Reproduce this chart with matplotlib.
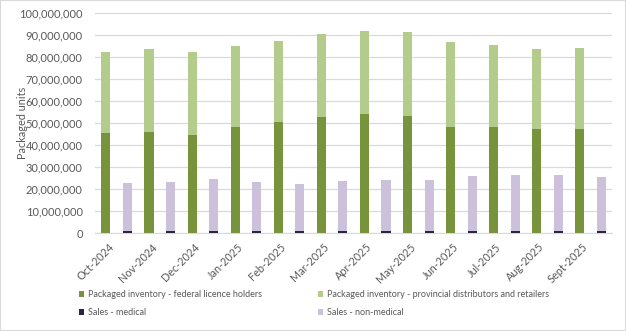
import matplotlib
matplotlib.use("Agg")
import matplotlib.pyplot as plt
import numpy as np
from matplotlib.ticker import FuncFormatter
from matplotlib.patches import Rectangle

plt.rcParams['font.family'] = ['Lato', 'DejaVu Sans']

months = ["Oct-2024", "Nov-2024", "Dec-2024", "Jan-2025", "Feb-2025", "Mar-2025",
          "Apr-2025", "May-2025", "Jun-2025", "Jul-2025", "Aug-2025", "Sept-2025"]
federal = [45.6, 45.9, 44.4, 48.3, 50.2, 52.7, 54.2, 53.2, 47.9, 48.3, 47.4, 47.3]
provincial = [36.6, 37.6, 37.6, 36.6, 36.8, 37.6, 37.5, 37.9, 38.7, 37.2, 36.3, 36.7]
medical = [0.8, 0.8, 0.8, 0.8, 0.9, 0.8, 0.8, 0.8, 0.8, 0.8, 0.8, 0.8]
non_medical = [21.7, 22.5, 23.5, 22.3, 21.3, 22.6, 23.2, 23.4, 24.9, 25.5, 25.5, 24.4]

scale = 1e6
federal = np.array(federal) * scale
provincial = np.array(provincial) * scale
medical = np.array(medical) * scale
non_medical = np.array(non_medical) * scale

c_fed = "#77933c"
c_prov = "#b3cc8b"
c_med = "#2b2541"
c_nonmed = "#ccc1da"
txt = "#595959"

fig = plt.figure(figsize=(6.26, 3.31), dpi=100)
ax = fig.add_axes([0.152, 0.296, 0.826, 0.666])

x = np.arange(len(months))
w = 0.21
xi = x - 0.25
xs = x + 0.25
b1 = ax.bar(xi, federal, w, color=c_fed, label="Packaged inventory - federal licence holders", zorder=3)
b2 = ax.bar(xi, provincial, w, bottom=federal, color=c_prov,
            label="Packaged inventory - provincial distributors and retailers", zorder=3)
b3 = ax.bar(xs, medical, w, color=c_med, label="Sales - medical", zorder=3)
b4 = ax.bar(xs, non_medical, w, bottom=medical, color=c_nonmed, label="Sales - non-medical", zorder=3)

ax.set_xlim(-0.5, 11.5)
ax.set_ylim(0, 100e6)
ax.set_yticks(np.arange(0, 100e6 + 1, 10e6))
ax.yaxis.set_major_formatter(FuncFormatter(lambda v, p: f"{int(v):,}"))
ax.grid(axis='y', color="#d9d9d9", linewidth=0.9, zorder=0)
for s in ["top", "right", "left"]:
    ax.spines[s].set_visible(False)
ax.spines["bottom"].set_color("#d9d9d9")
ax.tick_params(axis='both', length=0, colors=txt, labelsize=8)
ax.tick_params(axis='y', pad=9)

ax.set_xticks(x - 0.2)
ax.set_xticklabels(months, rotation=45, ha='right', rotation_mode='anchor', fontsize=7.8)
ax.tick_params(axis='x', pad=6)

fig.text(0.036, 0.628, "Packaged units", rotation=90, ha='center', va='center',
         fontsize=7.8, color=txt)

handles = [b1, b3, b2, b4]
leg = fig.legend(handles=handles, labels=[h.get_label() for h in handles], ncol=2,
                 loc='upper left', bbox_to_anchor=(0.126, 0.124), frameon=False,
                 fontsize=6.5, handlelength=0.6, handleheight=0.6, handletextpad=0.4,
                 columnspacing=6.2, labelspacing=1.0, labelcolor=txt,
                 borderaxespad=0, borderpad=0)

fig.patches.append(Rectangle((0, 0), 1, 1, transform=fig.transFigure, fill=False,
                             edgecolor="#d9d9d9", linewidth=1.5))

fig.savefig("out.png", dpi=100)
